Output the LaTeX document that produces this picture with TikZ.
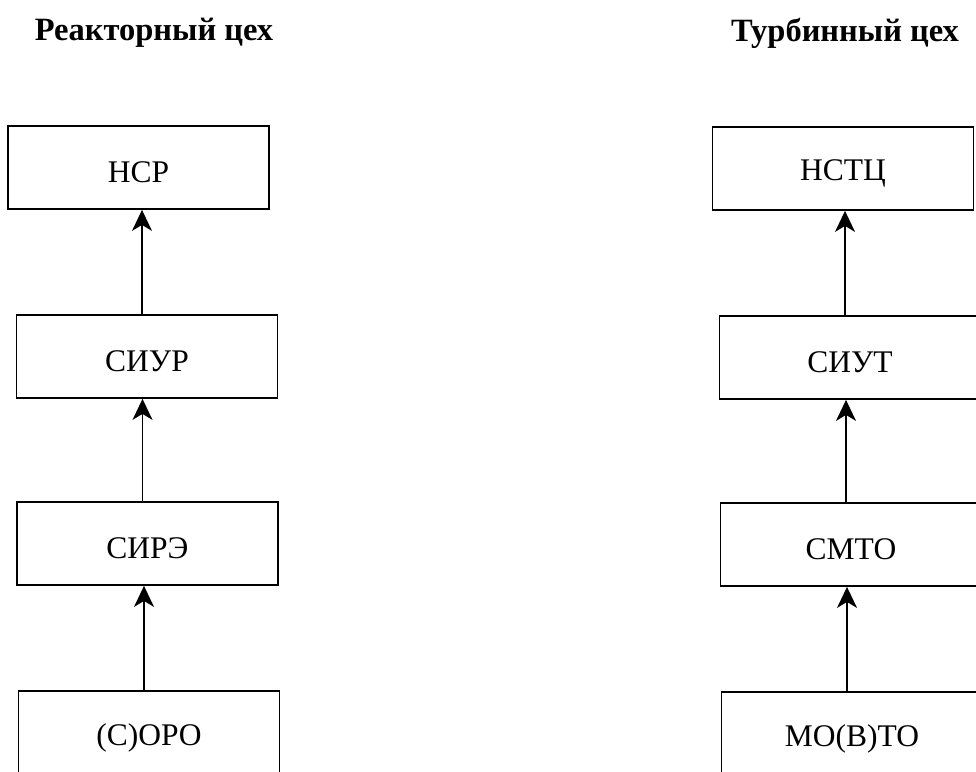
\documentclass[tikz,border=0pt]{standalone}
\usepackage{fontspec}
\setmainfont{Liberation Serif}
\usetikzlibrary{arrows.meta}
\begin{document}
\begin{tikzpicture}[x=1pt,y=-1pt,
  box/.style={draw, line width=1.8pt, minimum width=261pt, minimum height=83pt, inner sep=0pt},
  boxtxt/.style={font=\fontsize{31.5}{36}\selectfont},
  ttl/.style={font=\fontsize{32.5}{38}\selectfont\bfseries, inner sep=0pt},
  arr/.style={line width=1.6pt, -{Stealth[length=21pt,width=20pt,inset=6pt]}}]
\useasboundingbox (0,0) rectangle (976,771);
\clip (0,0) rectangle (976,771);
% titles
\node[ttl] (t1) at (154,33) {Реакторный цех};
\node[ttl] (t2) at (845,33) {Турбинный цех};
% left column
\node[box, label={[yshift=-5pt,boxtxt]center:НСР}] (ncr) at (138.5,167.5) {};
\node[box, label={[yshift=-5pt,boxtxt]center:СИУР}] (siur) at (147,356.5) {};
\node[box, label={[yshift=-5pt,boxtxt]center:СИРЭ}] (sire) at (147.5,543.5) {};
\node[box, label={[yshift=-5pt,boxtxt]center:(С)ОРО}] (soro) at (149,732.5) {};
% right column
\node[box, label={[yshift=-5pt,boxtxt]center:НСТЦ}] (nstc) at (843,168.5) {};
\node[box, label={[yshift=-5pt,boxtxt]center:СИУТ}] (siut) at (850,357.5) {};
\node[box, label={[yshift=-5pt,boxtxt]center:СМТО}] (smto) at (851,544.5) {};
\node[box, label={[yshift=-5pt,boxtxt]center:МО(В)ТО}] (mobto) at (852,733.5) {};
% arrows
\draw[arr] ([xshift=-5pt]siur.north) -- ([xshift=-5pt]siur.north |- ncr.south);
\draw[arr] ([xshift=-5pt]sire.north) -- ([xshift=-5pt]sire.north |- siur.south);
\draw[arr] ([xshift=-5pt]soro.north) -- ([xshift=-5pt]soro.north |- sire.south);
\draw[arr] ([xshift=-5pt]siut.north) -- ([xshift=-5pt]siut.north |- nstc.south);
\draw[arr] ([xshift=-5pt]smto.north) -- ([xshift=-5pt]smto.north |- siut.south);
\draw[arr] ([xshift=-5pt]mobto.north) -- ([xshift=-5pt]mobto.north |- smto.south);
\end{tikzpicture}
\end{document}
